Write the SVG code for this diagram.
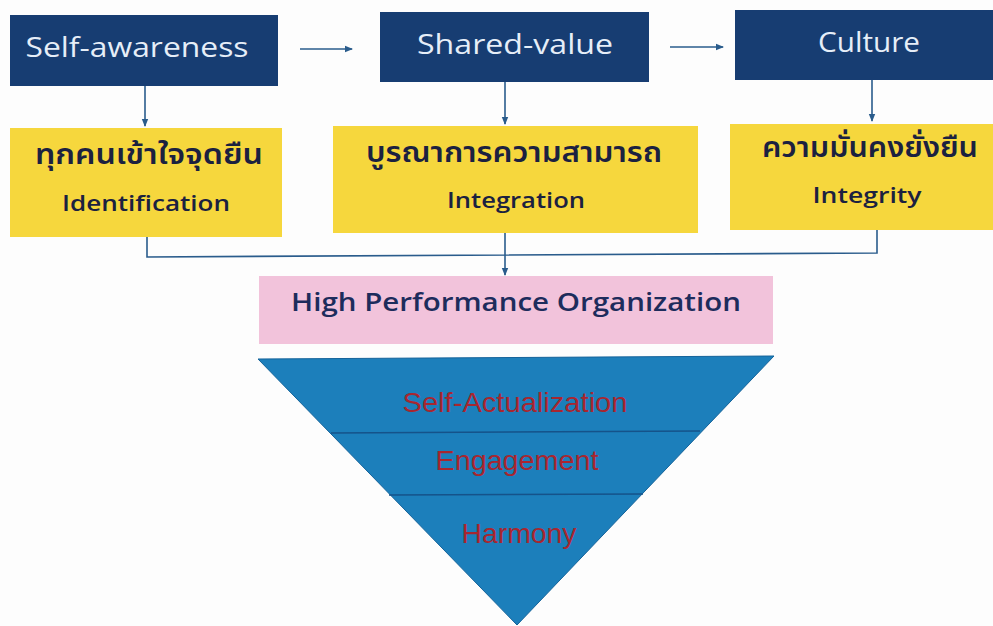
<svg xmlns="http://www.w3.org/2000/svg" width="993" height="626" viewBox="0 0 993 626">
<style>
.navy{fill:#173d72}
.yel{fill:#f6d73d}
.pink{fill:#f2c3db}
.hd{font-family:"Open Sans","Noto Sans",sans-serif;font-size:27px;fill:#e6eef8;text-anchor:middle}
.th{font-family:"Noto Sans Thai","Noto Sans","DejaVu Sans",sans-serif;font-size:28px;font-weight:600;fill:#1b2140;text-anchor:middle}
.en{font-family:"Open Sans","Noto Sans",sans-serif;font-size:22px;font-weight:600;fill:#1b2140;text-anchor:middle}
.hpo{font-family:"Open Sans","Noto Sans",sans-serif;font-size:25px;font-weight:600;fill:#1d2c5c;text-anchor:middle}
.pl{font-family:"Liberation Sans",Arial,sans-serif;font-size:28px;fill:#a8262f;text-anchor:middle}
.ln{stroke:#2a5c8c;stroke-width:1.6;fill:none}
</style>
<defs>
<marker id="ah" markerWidth="8" markerHeight="8" refX="7" refY="4" orient="auto" markerUnits="userSpaceOnUse">
<path d="M0,0.8 L8,4 L0,7.2 Z" fill="#2a5c8c"/>
</marker>
</defs>
<rect width="993" height="626" fill="#fdfdfd"/>
<g id="connectors">
<line class="ln" x1="300" y1="49" x2="352" y2="49" marker-end="url(#ah)"/>
<line class="ln" x1="670" y1="47" x2="723" y2="47" marker-end="url(#ah)"/>
<line class="ln" x1="145" y1="86" x2="145" y2="126" marker-end="url(#ah)"/>
<line class="ln" x1="505" y1="82" x2="505" y2="124" marker-end="url(#ah)"/>
<line class="ln" x1="872" y1="80" x2="872" y2="121" marker-end="url(#ah)"/>
<polyline class="ln" points="147,237 147,257 877,253 877,230"/>
<line class="ln" x1="505" y1="233" x2="505" y2="275" marker-end="url(#ah)"/>
</g>
<g id="self-awareness">
<rect class="navy" x="10" y="15" width="268" height="71"/>
<text class="hd" x="137" y="57" textLength="223" lengthAdjust="spacingAndGlyphs">Self-awareness</text>
</g>
<g id="shared-value">
<rect class="navy" x="380" y="12" width="269" height="70"/>
<text class="hd" x="515" y="54" textLength="196" lengthAdjust="spacingAndGlyphs">Shared-value</text>
</g>
<g id="culture">
<rect class="navy" x="735" y="10" width="258" height="70"/>
<text class="hd" x="869" y="52" textLength="102" lengthAdjust="spacingAndGlyphs">Culture</text>
</g>
<g id="identification">
<rect class="yel" x="10" y="128" width="272" height="109"/>
<text class="th" x="149" y="164" textLength="228" lengthAdjust="spacingAndGlyphs">ทุกคนเข้าใจจุดยืน</text>
<text class="en" x="146" y="211" textLength="168" lengthAdjust="spacingAndGlyphs">Identification</text>
</g>
<g id="integration">
<rect class="yel" x="333" y="126" width="365" height="107"/>
<text class="th" x="514" y="162" textLength="296" lengthAdjust="spacingAndGlyphs">บูรณาการความสามารถ</text>
<text class="en" x="516" y="208" textLength="138" lengthAdjust="spacingAndGlyphs">Integration</text>
</g>
<g id="integrity">
<rect class="yel" x="730" y="124" width="263" height="106"/>
<text class="th" x="870" y="157" textLength="216" lengthAdjust="spacingAndGlyphs">ความมั่นคงยั่งยืน</text>
<text class="en" x="867" y="203" textLength="109" lengthAdjust="spacingAndGlyphs">Integrity</text>
</g>
<g id="hpo">
<rect class="pink" x="259" y="276" width="514" height="68"/>
<text class="hpo" x="516" y="311" textLength="450" lengthAdjust="spacingAndGlyphs">High Performance Organization</text>
</g>
<g id="pyramid">
<polygon points="258,359 774,356 517,625" fill="#1c7fbb" stroke="#15639a" stroke-width="1"/>
<line x1="331" y1="433" x2="700" y2="431" stroke="#15538a" stroke-width="1.6"/>
<line x1="389" y1="495" x2="643" y2="494" stroke="#15538a" stroke-width="1.6"/>
<text class="pl" x="515" y="412" textLength="225" lengthAdjust="spacingAndGlyphs">Self-Actualization</text>
<text class="pl" x="517" y="470" textLength="163" lengthAdjust="spacingAndGlyphs">Engagement</text>
<text class="pl" x="519" y="543" textLength="115" lengthAdjust="spacingAndGlyphs">Harmony</text>
</g>
</svg>
